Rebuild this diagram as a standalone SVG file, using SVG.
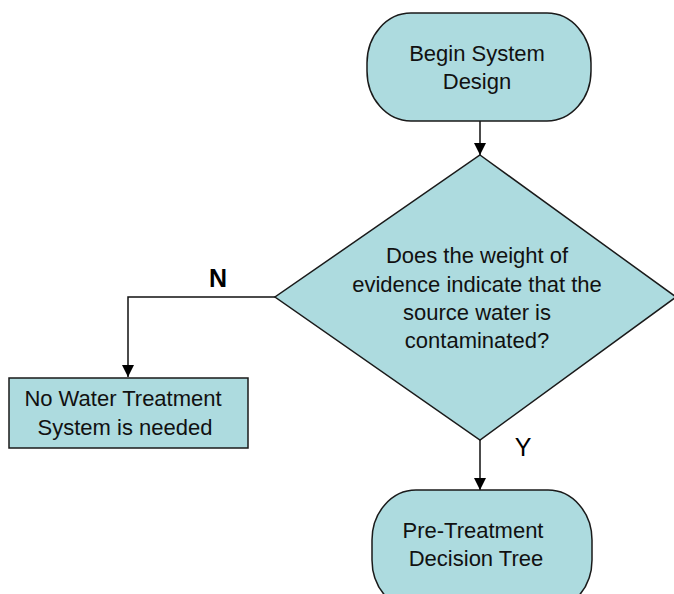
<svg xmlns="http://www.w3.org/2000/svg" width="674" height="594" viewBox="0 0 674 594">
<style>
.shape{fill:#ADDBDF;stroke:#1a1a1a;stroke-width:1.5}
.t{font-family:"Liberation Sans",Arial,sans-serif;font-size:22px;fill:#111;text-anchor:middle}
.lbl{font-family:"Liberation Sans",Arial,sans-serif;font-size:25px;fill:#000;text-anchor:middle}
.conn{fill:none;stroke:#111;stroke-width:1.5}
</style>
<defs>
<marker id="arr" viewBox="0 0 12 12" refX="12" refY="6" markerWidth="12" markerHeight="12" markerUnits="userSpaceOnUse" orient="auto">
<path d="M0,0 L12,6 L0,12 Z" fill="#000"/>
</marker>
</defs>
<rect width="674" height="594" fill="#fff"/>
<g id="connectors">
<path class="conn" d="M480,121 V155" marker-end="url(#arr)"/>
<path class="conn" d="M275,297 H128 V377" marker-end="url(#arr)"/>
<path class="conn" d="M480,440 V490" marker-end="url(#arr)"/>
<text class="lbl" x="218" y="287" font-weight="bold">N</text>
<text class="lbl" x="523" y="456">Y</text>
</g>
<g id="begin">
<rect class="shape" x="367" y="13" width="224" height="108" rx="44" ry="50"/>
<text class="t" x="477" y="61">Begin System</text>
<text class="t" x="477" y="89">Design</text>
</g>
<g id="decision">
<polygon class="shape" points="480,155 676,297 480,440 275,297"/>
<text class="t" x="477" y="263">Does the weight of</text>
<text class="t" x="477" y="292">evidence indicate that the</text>
<text class="t" x="477" y="320">source water is</text>
<text class="t" x="477" y="348">contaminated?</text>
</g>
<g id="no-treatment">
<rect class="shape" x="9" y="378" width="239" height="70"/>
<text class="t" x="123" y="406">No Water Treatment</text>
<text class="t" x="125" y="435">System is needed</text>
</g>
<g id="pretreatment">
<rect class="shape" x="372" y="490" width="220" height="120" rx="44" ry="50"/>
<text class="t" x="473" y="538">Pre-Treatment</text>
<text class="t" x="476" y="566">Decision Tree</text>
</g>
</svg>
